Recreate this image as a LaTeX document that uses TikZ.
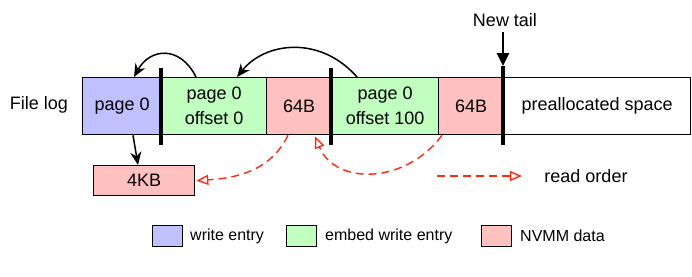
\documentclass[tikz,border=0pt]{standalone}
\usepackage{fontspec}
\setmainfont{Liberation Sans}
\usetikzlibrary{arrows.meta,calc}
\definecolor{wblue}{HTML}{C0C0FF}
\definecolor{wgreen}{HTML}{C0FFC0}
\definecolor{wred}{HTML}{FFC0C0}
\definecolor{dred}{HTML}{FF2A14}
\begin{document}
\begin{tikzpicture}[x=1pt,y=-1pt,
  box/.style={draw=black, line width=1.3pt, inner sep=0pt, anchor=north west, align=center,
    font=\fontsize{18}{25}\selectfont},
  lbox/.style={draw=black, line width=1.3pt, inner sep=0pt, anchor=north west, minimum width=30pt, minimum height=21pt},
  ltext/.style={anchor=west, inner sep=0pt, font=\fontsize{16}{18}\selectfont},
  sep/.style={line width=3.2pt},
  ptr/.style={line width=1.5pt, -{Stealth[length=13pt,width=11pt]}},
  rd/.style={draw=dred, line width=1.4pt, dash pattern=on 8pt off 5pt, -{Triangle[open,length=12pt,width=10pt]}}
]
\useasboundingbox (0,0) rectangle (692,276);

\node[anchor=center, font=\fontsize{18}{20}\selectfont] (fl) at (39,105) {File log};

\node[box, fill=wblue, minimum width=79pt, minimum height=57pt] (p0) at (82,77) {page 0};
\node[box, fill=wgreen, minimum width=105pt, minimum height=57pt] (g1) at (161,77) {page 0\\offset 0};
\node[box, fill=wred, minimum width=65pt, minimum height=57pt] (r1) at (266,77) {64B};
\node[box, fill=wgreen, minimum width=107pt, minimum height=57pt] (g2) at (331,77) {page 0\\offset 100};
\node[box, fill=wred, minimum width=65pt, minimum height=57pt] (r2) at (438,77) {64B};
\node[box, fill=white, minimum width=187pt, minimum height=57pt] (pre) at (503,77) {preallocated space};

\node[box, fill=wred, minimum width=101pt, minimum height=30pt] (kb) at (93,165) {4KB};

% separators
\coordinate (s1t) at (161,68); \coordinate (s1b) at (161,145);
\coordinate (s2t) at (331,68); \coordinate (s2b) at (331,145);
\coordinate (s3t) at (503,66); \coordinate (s3b) at (503,145);
\draw[sep] (s1t) -- (s1b);
\draw[sep] (s2t) -- (s2b);
\draw[sep] (s3t) -- (s3b);

% pointers
\draw[ptr] ($(g1.north west)+(35,0)$) .. controls (180,45) and (150,48) .. ($(p0.north west)+(52,0)$);
\draw[ptr] ($(g2.north west)+(26,0)$) .. controls (320,35) and (265,42) .. ($(g1.north west)+(76,0)$);
\draw[ptr] ($(p0.south west)+(51,0)$) -- ($(kb.north west)+(45,0)$);

% read order
\draw[rd] ($(r1.south west)+(22,0)$) .. controls (270,172) and (235,178) .. ($(kb.east)+(1,0)$);
\draw[rd] ($(r2.south west)+(4,0)$) .. controls (405,185) and (335,185) .. ($(r1.south west)+(49,1)$);

% new tail
\node[anchor=center, font=\fontsize{18}{20}\selectfont] (nt) at (505,20) {New tail};
\coordinate (nts) at (503,32);
\draw[line width=2.8pt, -{Triangle[length=13pt,width=12pt]}] (nts) -- (s3t);

% legend read order
\coordinate (lr1) at (437,176);
\coordinate (lr2) at (522,176);
\draw[rd] (lr1) -- (lr2);
\node[anchor=center, font=\fontsize{18}{20}\selectfont] (ro) at (586,176) {read order};

% legend boxes
\node[lbox, fill=wblue] (lb) at (152,225) {};
\node[ltext] (lbt) at (190,236) {write entry};
\node[lbox, fill=wgreen] (lg) at (286,225) {};
\node[ltext] (lgt) at (325,236) {embed write entry};
\node[lbox, fill=wred] (lr) at (481,225) {};
\node[ltext] (lrt) at (520,236) {NVMM data};
\end{tikzpicture}
\end{document}
